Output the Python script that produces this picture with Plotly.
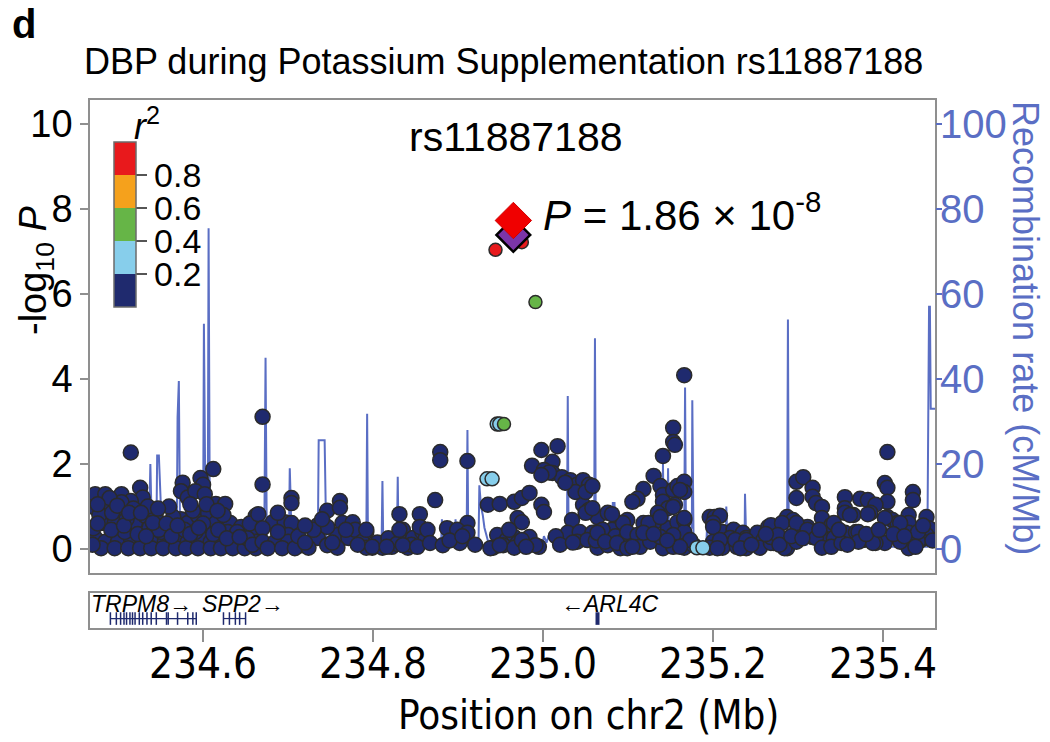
import plotly.graph_objects as go

# ---------------- data ----------------
recomb_pos = [234.467, 234.536, 234.538, 234.540, 234.545, 234.546, 234.548, 234.550, 234.551,
              234.569, 234.570, 234.5715, 234.573, 234.600, 234.601, 234.603, 234.6055, 234.6065,
              234.608, 234.672, 234.6735, 234.675, 234.701, 234.7015, 234.702, 234.703, 234.704,
              234.735, 234.736, 234.743, 234.744, 234.745, 234.792, 234.793, 234.794, 234.810,
              234.811, 234.812, 234.828, 234.829, 234.830, 234.880, 234.881, 234.882, 234.896,
              234.897, 234.898, 234.910, 234.911, 234.912, 234.924, 234.925, 234.927, 234.929,
              234.931, 234.935, 234.999, 235.001, 235.004, 235.008, 235.012, 235.028, 235.029,
              235.030, 235.060, 235.061, 235.062, 235.081, 235.082, 235.084, 235.085, 235.140,
              235.141, 235.142, 235.146, 235.147, 235.148, 235.166, 235.167, 235.168, 235.175,
              235.1755, 235.177, 235.192, 235.193, 235.194, 235.215, 235.2155, 235.217, 235.237,
              235.2375, 235.239, 235.287, 235.288, 235.289, 235.310, 235.311, 235.330, 235.331,
              235.366, 235.367, 235.373, 235.374, 235.404, 235.405, 235.407, 235.452, 235.453,
              235.454, 235.455, 235.456, 235.462]
recomb_rate = [1.0, 1.0, 20, 2, 2, 22, 22, 12, 2,
               2, 31, 39.5, 2, 2, 53, 4, 4, 75.5,
               3, 2, 45, 2, 2, 15, 19, 12, 2,
               1, 25.6, 25.6, 16, 1, 1, 31.8, 1, 1,
               16, 1, 1, 17, 1, 1, 7, 1, 1,
               7, 1, 1, 28, 1, 1, 15, 10, 8,
               5, 2, 1, 3, 1.5, 4, 1, 1, 36,
               2, 2, 49.6, 2, 2, 10.8, 10.8, 2, 2,
               20, 4, 4, 19, 3, 3, 38, 5, 5,
               35, 1, 1, 6, 1, 1, 10, 1, 1,
               13, 1, 1, 54, 1, 1, 2, 2, 0.5,
               0.5, 3, 3, 0.5, 0.5, 5.6, 0.5, 0.5, 33,
               57, 57, 33, 33]

# SNPs with r^2 < 0.2  (position Mb, -log10 P)
navy_left = [
    (234.515, 2.27), (234.612, 1.88), (234.576, 1.56), (234.597, 1.67), (234.600, 1.51),
    (234.526, 1.44), (234.529, 1.21), (234.473, 1.29), (234.485, 1.29), (234.504, 1.29),
    (234.515, 1.13), (234.574, 1.36), (234.582, 1.21), (234.591, 1.36), (234.602, 1.29),
    (234.615, 1.06), (234.626, 1.06), (234.662, 0.78), (234.473, 0.97), (234.488, 0.97),
    (234.504, 0.88), (234.480, 0.61), (234.496, 0.61), (234.520, 0.61), (234.532, 0.78),
    (234.544, 0.78), (234.561, 0.52), (234.574, 0.70), (234.582, 0.61), (234.594, 0.78),
    (234.606, 0.84), (234.615, 0.61), (234.632, 0.61), (234.645, 0.52), (234.656, 0.42),
    (234.473, 0.26), (234.485, 0.17), (234.500, 0.17), (234.515, 0.26), (234.529, 0.17),
    (234.544, 0.26), (234.555, 0.17), (234.568, 0.26), (234.582, 0.17), (234.597, 0.26),
    (234.609, 0.17), (234.621, 0.17), (234.638, 0.17), (234.649, 0.08), (234.662, 0.17),
    (234.480, 0.02), (234.496, 0.02), (234.512, 0.02), (234.526, 0.02), (234.539, 0.02),
    (234.553, 0.02), (234.568, 0.02), (234.580, 0.02), (234.594, 0.02), (234.609, 0.02),
    (234.621, 0.02), (234.635, 0.02), (234.649, 0.02), (234.662, 0.02), (234.471, 0.49),
    (234.508, 0.40), (234.551, 0.40), (234.591, 0.40), (234.629, 0.40), (234.504, 1.10),
    (234.488, 1.10), (234.478, 0.80), (234.492, 0.45), (234.510, 0.70), (234.523, 0.35),
    (234.537, 0.50), (234.548, 0.45), (234.565, 0.75), (234.578, 0.45), (234.588, 0.90),
    (234.600, 0.60), (234.612, 0.35), (234.624, 0.80), (234.640, 0.40), (234.652, 0.25),
    (234.535, 1.00), (234.518, 0.95), (234.490, 1.20), (234.560, 1.00),
    (234.476, 1.05), (234.493, 0.85), (234.499, 1.02), (234.507, 0.55), (234.513, 0.85),
    (234.527, 0.85), (234.533, 0.30), (234.541, 0.62), (234.547, 0.95), (234.557, 0.60),
    (234.563, 0.30), (234.570, 0.55), (234.585, 0.35), (234.595, 0.50), (234.604, 1.05),
    (234.618, 0.45), (234.628, 0.25), (234.643, 0.28), (234.655, 0.60), (234.658, 0.10),
    (234.470, 0.10), (234.476, 0.60), (234.617, 0.90), (234.585, 1.05),
]
navy_mid = [
    (234.670, 3.11), (234.670, 1.52), (234.704, 1.20), (234.704, 1.08), (234.746, 0.90),
    (234.761, 1.13), (234.761, 0.97), (234.665, 0.82), (234.682, 0.63), (234.696, 0.63),
    (234.704, 0.61), (234.735, 0.56), (234.764, 0.61), (234.776, 0.63), (234.792, 0.40),
    (234.831, 0.82), (234.855, 0.82), (234.835, 0.45), (234.670, 0.49), (234.670, 0.17),
    (234.685, 0.17), (234.700, 0.33), (234.700, 0.17), (234.716, 0.09), (234.735, 0.26),
    (234.746, 0.09), (234.758, 0.33), (234.771, 0.26), (234.779, 0.45), (234.787, 0.17),
    (234.799, 0.03), (234.811, 0.03), (234.822, 0.05), (234.835, 0.17), (234.847, 0.26),
    (234.858, 0.40), (234.676, 0.02), (234.693, 0.02), (234.708, 0.02), (234.724, 0.03),
    (234.758, 0.03), (234.792, 0.03), (234.841, 0.03), (234.746, 0.52),
    (234.688, 0.40), (234.712, 0.30), (234.720, 0.15), (234.730, 0.45), (234.740, 0.70),
    (234.752, 0.15), (234.768, 0.45), (234.782, 0.10), (234.805, 0.15), (234.818, 0.25),
    (234.828, 0.12), (234.845, 0.10), (234.862, 0.25), (234.688, 0.85), (234.720, 0.55),
]
navy_center = [
    (234.879, 2.28), (234.879, 2.09), (234.911, 2.07), (234.873, 1.15), (234.911, 0.61),
    (234.935, 1.04), (234.949, 1.06), (234.966, 1.11), (234.975, 1.20), (234.984, 1.32),
    (234.970, 0.73), (234.975, 0.63), (234.998, 1.04), (235.001, 0.87), (234.987, 1.96),
    (234.998, 2.33), (235.011, 2.05), (235.017, 2.42), (235.001, 1.86), (235.011, 1.79),
    (235.022, 1.69), (235.032, 1.62), (235.040, 1.51), (235.047, 1.62), (235.054, 1.51),
    (235.038, 1.34), (235.047, 1.04), (235.054, 0.92), (235.064, 0.75), (235.076, 0.85),
    (235.034, 0.68), (235.091, 0.61), (235.099, 0.68), (234.792, 0.45), (234.831, 0.45),
    (234.855, 0.52), (234.864, 0.45), (234.887, 0.49), (234.899, 0.45), (234.911, 0.38),
    (234.946, 0.33), (234.957, 0.21), (234.966, 0.28), (234.984, 0.28), (235.029, 0.38),
    (235.043, 0.40), (235.058, 0.38), (235.081, 0.45), (235.094, 0.61), (234.799, 0.05),
    (234.816, 0.05), (234.835, 0.09), (234.852, 0.05), (234.867, 0.14), (234.882, 0.09),
    (234.902, 0.14), (234.941, 0.03), (234.953, 0.09), (234.970, 0.14), (234.995, 0.05),
    (235.040, 0.17), (235.052, 0.21), (235.064, 0.03), (235.076, 0.09), (235.091, 0.02),
    (234.938, 0.02), (234.966, 0.03), (234.975, 0.21), (234.991, 0.09), (234.949, 0.09),
    (235.050, 1.34), (235.050, 0.85), (235.007, 1.80), (234.998, 1.74), (235.026, 1.56),
    (234.890, 0.20), (234.905, 0.30), (234.920, 0.10), (234.960, 0.45), (234.980, 0.05),
    (235.015, 0.30), (235.020, 0.10), (235.035, 0.15), (235.062, 0.20), (235.070, 0.45),
    (235.085, 0.30), (235.095, 0.20),
]
navy_right = [
    (235.166, 4.09), (235.153, 2.85), (235.153, 2.52), (235.155, 2.45), (235.141, 2.19),
    (235.130, 1.72), (235.118, 1.41), (235.111, 1.18), (235.105, 1.11), (235.138, 1.48),
    (235.141, 1.27), (235.141, 1.11), (235.153, 1.39), (235.158, 1.48), (235.166, 1.58),
    (235.166, 1.34), (235.155, 1.04), (235.147, 0.96), (235.135, 0.85), (235.058, 1.48),
    (235.058, 0.96), (235.081, 0.82), (235.118, 0.61), (235.130, 0.61), (235.064, 0.38),
    (235.099, 0.40), (235.111, 0.33), (235.147, 0.49), (235.158, 0.63), (235.166, 0.68),
    (235.166, 0.40), (235.153, 0.33), (235.073, 0.17), (235.087, 0.14), (235.099, 0.02),
    (235.114, 0.05), (235.126, 0.17), (235.141, 0.02), (235.153, 0.05), (235.166, 0.03),
    (235.177, 0.09), (235.196, 0.75), (235.202, 0.75), (235.208, 0.78), (235.200, 0.61),
    (235.211, 0.40), (235.224, 0.45), (235.235, 0.38), (235.239, 0.26), (235.220, 0.26),
    (235.200, 0.17), (235.196, 0.03), (235.211, 0.03), (235.228, 0.05), (235.239, 0.02),
    (235.252, 0.17), (235.252, 0.38), (235.124, 0.61), (235.118, 0.38), (235.138, 0.28),
    (235.173, 0.21), (235.161, 0.05), (235.161, 1.39), (235.138, 0.75), (235.166, 0.73),
    (235.153, 0.99), (235.105, 0.05), (235.130, 0.35), (235.146, 0.20),
]
navy_far = [
    (235.405, 2.28), (235.402, 1.55), (235.405, 1.44), (235.405, 1.11), (235.405, 0.75),
    (235.411, 0.68), (235.417, 0.61), (235.435, 1.34), (235.435, 1.15), (235.430, 0.80),
    (235.430, 0.61), (235.430, 0.38), (235.451, 0.75), (235.454, 0.49), (235.451, 0.33),
    (235.444, 0.21), (235.430, 0.02), (235.420, 0.17), (235.402, 0.14), (235.391, 0.14),
    (235.298, 1.58), (235.306, 1.69), (235.298, 1.20), (235.317, 1.44), (235.317, 1.23),
    (235.321, 1.08), (235.328, 0.99), (235.328, 0.73), (235.339, 0.56), (235.355, 1.22),
    (235.373, 1.18), (235.382, 1.15), (235.391, 1.04), (235.355, 0.96), (235.365, 0.80),
    (235.385, 0.85), (235.287, 0.75), (235.294, 0.68), (235.298, 0.38), (235.311, 0.52),
    (235.317, 0.28), (235.333, 0.21), (235.345, 0.28), (235.355, 0.38), (235.368, 0.40),
    (235.376, 0.21), (235.388, 0.14), (235.287, 0.02), (235.265, 0.52), (235.271, 0.49),
    (235.259, 0.21), (235.271, 0.14), (235.255, 0.03), (235.200, 0.52), (235.208, 0.21),
    (235.226, 0.21), (235.239, 0.21), (235.205, 0.02), (235.232, 0.02), (235.268, 0.56),
    (235.281, 0.61), (235.298, 0.61), (235.311, 0.45), (235.321, 0.26), (235.342, 0.26),
    (235.371, 0.40), (235.371, 0.17), (235.268, 0.14), (235.284, 0.02), (235.298, 0.17),
    (235.328, 0.03), (235.339, 0.05), (235.351, 0.14), (235.441, 0.17), (235.441, 0.40),
    (235.268, 0.28), (235.276, 0.33), (235.342, 0.61), (235.355, 0.85), (235.361, 0.80),
    (235.382, 0.82), (235.402, 0.73), (235.420, 0.61),
    (235.245, 0.10), (235.262, 0.35), (235.278, 0.10), (235.292, 0.30), (235.305, 0.25),
    (235.325, 0.45), (235.348, 0.45), (235.358, 0.10), (235.380, 0.35), (235.395, 0.45),
    (235.412, 0.35), (235.425, 0.30), (235.438, 0.05), (235.447, 0.55), (235.458, 0.20),
]
# SNPs in higher LD
lightblue_snps = [(234.934, 1.65), (234.940, 1.65), (234.946, 2.94), (234.949, 2.94),
                  (235.181, 0.03), (235.188, 0.03)]
green_snps = [(234.954, 2.94), (234.991, 5.81)]
red_snps = [(234.944, 7.04), (234.975, 7.22)]
lead_snp = [(234.965, 7.39)]          # rs11887188 discovery
combined_snp = [(234.965, 7.73)]      # P = 1.86e-8

r2_bins = {"navy": 0.1, "lightblue": 0.3, "green": 0.5, "red": 0.9}

genes = ["TRPM8", "SPP2", "ARL4C"]
gene_start = [234.491, 234.624, 235.063]
gene_end = [234.592, 234.650, 235.065]
gene_label = ["TRPM8\u2192", "SPP2\u2192", "\u2190ARL4C"]
trpm8_exons = [234.491, 234.498, 234.503, 234.507, 234.510, 234.514, 234.517, 234.520,
               234.525, 234.529, 234.534, 234.539, 234.545, 234.557, 234.559, 234.570,
               234.582, 234.588, 234.592]
spp2_exons = [234.624, 234.631, 234.638, 234.643, 234.650]

x_ticks = [234.6, 234.8, 235.0, 235.2, 235.4]
x_ticktext = ["234.6", "234.8", "235.0", "235.2", "235.4"]
y_ticks = [0, 2, 4, 6, 8, 10]
recomb_ticks = [0, 20, 40, 60, 80, 100]

# ---------------- styles ----------------
NAVY = "#1f2a6e"
LBLUE = "#87ceeb"
GREEN = "#66b547"
ORANGE = "#f5a11c"
RED = "#e8191c"
RECOMB = "#5a6ec4"
FRAME = "#8f8f8f"
FONT = "Liberation Sans, Arial, sans-serif"
NARROW = "DejaVu Sans Condensed, Liberation Sans Narrow, Liberation Sans, sans-serif"

OFF = 8                       # page body margin of the html page
W, H = 1050 - OFF, 742 - OFF
ML, MT = 90 - OFF, 100 - OFF
MR = W - (935 - OFF)
MB = H - (628 - OFF)
PW, PH = W - ML - MR, H - MT - MB


def px(xp):
    """reference page pixel -> paper x"""
    return (xp - OFF - ML) / PW


def py(yp):
    """reference page pixel -> paper y"""
    return (H - MB - (yp - OFF)) / PH


fig = go.Figure()

# recombination line (base axis y, drawn underneath)
fig.add_trace(go.Scatter(x=recomb_pos, y=recomb_rate, mode="lines",
                         line=dict(color=RECOMB, width=2), xaxis="x2", yaxis="y",
                         hoverinfo="skip", showlegend=False))

groups = [(navy_left + navy_mid + navy_center + navy_right + navy_far, r2_bins["navy"], 15),
          (lightblue_snps, r2_bins["lightblue"], 14),
          (green_snps, r2_bins["green"], 13),
          (red_snps, r2_bins["red"], 13)]
xs, ys, cs, ss = [], [], [], []
for pts, r2, sz in groups:
    for p, v in pts:
        xs.append(p)
        ys.append(v)
        cs.append(r2)
        ss.append(sz)

colorscale = [[0, NAVY], [0.2, NAVY], [0.2, LBLUE], [0.4, LBLUE], [0.4, GREEN], [0.6, GREEN],
              [0.6, ORANGE], [0.8, ORANGE], [0.8, RED], [1, RED]]

fig.add_trace(go.Scatter(
    x=xs, y=ys, mode="markers", xaxis="x2", yaxis="y2", showlegend=False,
    marker=dict(size=ss, color=cs, cmin=0, cmax=1, colorscale=colorscale, opacity=1,
                line=dict(color="#2b2b2b", width=1.5), showscale=True,
                colorbar=dict(x=px(114), xanchor="left", y=py(224.5), yanchor="middle",
                              len=165, lenmode="pixels", thickness=22, thicknessmode="pixels",
                              outlinewidth=1.5, outlinecolor="#6b6b6b",
                              tickvals=[0.2, 0.4, 0.6, 0.8], ticktext=["0.2", "0.4", "0.6", "0.8"],
                              ticks="outside", ticklen=11, tickwidth=1.5, tickcolor="#555555",
                              tickfont=dict(size=34, color="black", family=FONT),
                              xpad=0, ypad=0, bgcolor="rgba(0,0,0,0)"))))

fig.add_trace(go.Scatter(x=[p for p, v in lead_snp], y=[v for p, v in lead_snp], mode="markers",
                         xaxis="x2", yaxis="y2", showlegend=False,
                         marker=dict(symbol="diamond", size=26, color="#7b35a8", opacity=1,
                                     line=dict(color="black", width=2.5))))
fig.add_trace(go.Scatter(x=[p for p, v in combined_snp], y=[v for p, v in combined_snp],
                         mode="markers", xaxis="x2", yaxis="y2", showlegend=False,
                         marker=dict(symbol="diamond", size=28, color="#f00000", opacity=1,
                                     line=dict(color="#d00000", width=1))))

# gene track
for s, e in zip(gene_start, gene_end):
    fig.add_trace(go.Scatter(x=[s, e], y=[0.27, 0.27], mode="lines", xaxis="x", yaxis="y3",
                             line=dict(color=NAVY, width=1.2), showlegend=False, hoverinfo="skip"))
for ex in (trpm8_exons, spp2_exons):
    fig.add_trace(go.Scatter(x=ex, y=[0.27] * len(ex), mode="markers", xaxis="x", yaxis="y3",
                             marker=dict(symbol="line-ns", size=9, line=dict(color=NAVY, width=1.5)),
                             showlegend=False, hoverinfo="skip"))
fig.add_trace(go.Scatter(x=[(gene_start[2] + gene_end[2]) / 2], y=[0.27], mode="markers",
                         xaxis="x", yaxis="y3",
                         marker=dict(symbol="line-ns", size=9, line=dict(color=NAVY, width=4)),
                         showlegend=False, hoverinfo="skip"))

label_shift = [-12, 8, 12]
annotations = []
for s, e, lab, sh in zip(gene_start, gene_end, gene_label, label_shift):
    annotations.append(dict(x=(s + e) / 2, y=0.70, xref="x", yref="y3", text="<i>%s</i>" % lab,
                            showarrow=False, xanchor="center", yanchor="middle", xshift=sh,
                            font=dict(size=23, color="black", family=FONT)))

# x tick labels (below the gene track)
for v, t in zip(x_ticks, x_ticktext):
    annotations.append(dict(x=v, y=py(663), xref="x", yref="paper", text=t, showarrow=False,
                            xanchor="center", yanchor="middle",
                            font=dict(size=42, color="black", family=NARROW)))
# recombination axis tick labels
for v in recomb_ticks:
    annotations.append(dict(x=px(938), y=v, xref="paper", yref="y", text=str(v), showarrow=False,
                            xanchor="left", yanchor="middle",
                            font=dict(size=40, color=RECOMB, family=FONT)))

annotations += [
    dict(x=px(10), y=py(24), xref="paper", yref="paper", text="<b>d</b>", showarrow=False,
         xanchor="left", yanchor="middle", font=dict(size=40, color="black", family=FONT)),
    dict(x=px(82), y=py(62), xref="paper", yref="paper",
         text="DBP during Potassium Supplementation rs11887188", showarrow=False,
         xanchor="left", yanchor="middle", font=dict(size=36, color="black", family=FONT)),
    dict(x=px(516), y=py(137), xref="paper", yref="paper", text="rs11887188", showarrow=False,
         xanchor="center", yanchor="middle", font=dict(size=41, color="black", family=FONT)),
    dict(x=px(541), y=py(212), xref="paper", yref="paper",
         text="<i>P</i> = 1.86 \u00d7 10<sup>-8</sup>", showarrow=False,
         xanchor="left", yanchor="middle", font=dict(size=42, color="black", family=FONT)),
    dict(x=px(147), y=py(124), xref="paper", yref="paper", text="<i>r</i><sup>2</sup>",
         showarrow=False, xanchor="center", yanchor="middle",
         font=dict(size=36, color="black", family=FONT)),
    dict(x=px(36), y=py(270), xref="paper", yref="paper",
         text="-log<sub>10</sub> <i>P</i>", showarrow=False, textangle=-90,
         xanchor="center", yanchor="middle", font=dict(size=38, color="black", family=FONT)),
    dict(x=px(1026), y=py(328), xref="paper", yref="paper",
         text="Recombination rate (cM/Mb)", showarrow=False, textangle=90,
         xanchor="center", yanchor="middle", font=dict(size=36, color=RECOMB, family=FONT)),
    dict(x=px(588), y=py(715), xref="paper", yref="paper",
         text="Position on chr2 (Mb)", showarrow=False,
         xanchor="center", yanchor="middle", font=dict(size=40, color="black", family=NARROW)),
]

xr = [234.467, 235.461]
fig.update_layout(
    width=W, height=H, margin=dict(l=ML, r=MR, t=MT, b=MB, autoexpand=False),
    paper_bgcolor="white", plot_bgcolor="white", showlegend=False,
    font=dict(family=FONT, color="black"),
    xaxis=dict(domain=[0, 1], anchor="y3", range=xr, tickvals=x_ticks, showticklabels=False,
               ticks="outside", ticklen=12, tickwidth=1.5, tickcolor=FRAME,
               showline=True, mirror=True, linecolor=FRAME, linewidth=1.5,
               showgrid=False, zeroline=False),
    xaxis2=dict(domain=[0, 1], anchor="y", range=xr, matches="x", showticklabels=False,
                ticks="", showline=True, mirror=True, linecolor=FRAME, linewidth=1.5,
                showgrid=False, zeroline=False),
    yaxis=dict(domain=[(H - MB - (573 - OFF)) / PH, 1], anchor="x2", side="right",
               range=[-5.65, 105.65], tickvals=recomb_ticks, showticklabels=False,
               ticks="outside", ticklen=6,
               tickwidth=1.5, tickcolor=RECOMB, showline=False, showgrid=False, zeroline=False),
    yaxis2=dict(overlaying="y", anchor="x2", side="left", range=[-0.565, 10.565],
                tickvals=y_ticks, ticks="outside", ticklen=8, tickwidth=1.5, tickcolor=FRAME,
                showline=True, mirror=True, linecolor=FRAME, linewidth=1.5,
                showgrid=False, zeroline=False,
                tickfont=dict(size=38, color="black", family=FONT)),
    yaxis3=dict(domain=[0, (H - MB - (593 - OFF)) / PH], anchor="x", range=[0, 1],
                showticklabels=False, ticks="", showline=True, mirror=True, linecolor=FRAME,
                linewidth=1.5, showgrid=False, zeroline=False),
    annotations=annotations,
)

fig.write_html("out.html")
